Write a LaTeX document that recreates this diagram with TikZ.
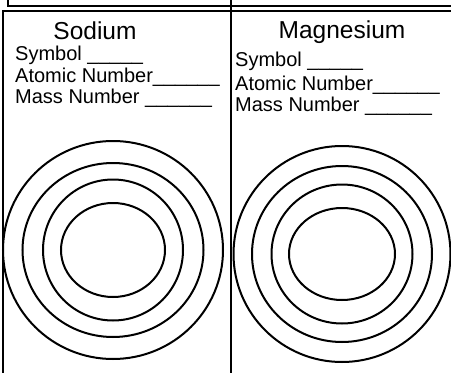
\documentclass[tikz,border=0pt]{standalone}
\usepackage{fontspec}
\setmainfont{Liberation Sans}
\usetikzlibrary{positioning}

\begin{document}
\begin{tikzpicture}[x=1pt,y=-1pt,
  frame/.style={line width=2pt},
  shell/.style={line width=2pt},
  title/.style={font=\fontsize{24.5}{28}\selectfont, inner sep=0pt, anchor=base},
  field/.style={font=\fontsize{20}{22}\selectfont, inner sep=0pt, anchor=base west}]

\useasboundingbox (0,0) rectangle (451,373);

% table lines
\draw[frame] (8,0) -- (8,6) -- (451,6);
\draw[frame] (2.5,373) -- (2.5,10.5) -- (451,10.5);
\draw[frame] (230.5,0) -- (230.5,373);

% Sodium
\node[title] (naName) at (95,39) {Sodium};
\node[field] (naSymbol) at (15,60) {Symbol \_\_\_\_\_};
\node[field] (naAtomic) at (15,82) {Atomic Number\_\_\_\_\_\_};
\node[field] (naMass) at (15,103.5) {Mass Number \_\_\_\_\_\_};

\coordinate (naCore) at (113,250);
\foreach \rx/\ry in {110/109, 90.5/87, 70/70.5, 52/47}
  \draw[shell] (naCore) ellipse ({\rx} and {\ry});

% Magnesium
\node[title] (mgName) at (342,38) {Magnesium};
\node[field] (mgSymbol) at (235,66.7) {Symbol \_\_\_\_\_};
\node[field] (mgAtomic) at (235,90) {Atomic Number\_\_\_\_\_\_};
\node[field] (mgMass) at (235,111.7) {Mass Number \_\_\_\_\_\_};

\coordinate (mgCore) at (342,254);
\foreach \rx/\ry in {108.5/108, 90/88, 70.5/69.5, 53/46}
  \draw[shell] (mgCore) ellipse ({\rx} and {\ry});

\end{tikzpicture}
\end{document}
